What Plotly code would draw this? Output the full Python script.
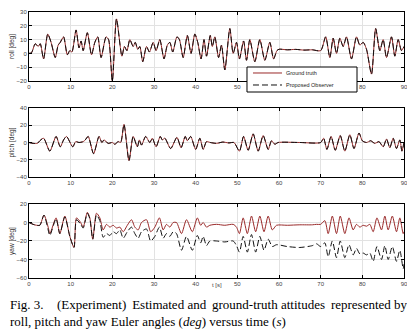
import plotly.graph_objects as go

# roll [deg] (ground truth, estimate overlaps it)
roll_t = [0, 0.6, 1.5, 2.2, 2.7, 3.5, 4.5, 5.3, 6.3, 7.0, 7.5, 8.3, 9.2, 9.8, 10.3, 11.3, 12.0, 12.5, 13.0,
          14.0, 15.0, 15.8, 16.5, 17.3, 18.5, 19.1, 20.0, 21.0, 22.3, 22.9, 23.5, 24.2, 25.0, 25.5, 26.1,
          26.6, 27.3, 28.2, 28.9, 29.8, 30.5, 31.4, 32.4, 33.2, 33.8, 34.5, 35.5, 36.1, 37.0, 38.0, 38.9,
          39.8, 40.5, 41.3, 42.0, 42.6, 43.5, 44.0, 44.6, 45.5, 46.2, 47.0, 48.2, 49.0, 49.8, 50.5, 51.5,
          52.2, 53.0, 54.2, 55.4, 56.6, 57.8, 58.7, 59.5, 60.0, 62.0, 64.0, 66.0, 68.0, 70.0, 71.2, 72.2,
          73.0, 73.8, 74.6, 75.4, 76.2, 77.4, 78.6, 79.4, 80.2, 81.0, 82.2, 83.2, 84.2, 85.0, 85.8, 87.0,
          87.8, 88.6, 89.4, 90.0]
roll_gt = [0, 0.5, 7, 5, 7, -4, 14, 8, -3, 6, 8, 12, -1, 2, 1, 17, 4, 9, 2,
           15, -1, 8, 12, -3, 12, 10, -20, 25, -2, 5, 2, 10, 5, 8, 3,
           5, -6, 5, 1, 8, 2, 10, -4, 6, 8, 1, 12, 10, -3, 13, 0,
           14, 8, -4, 10, -2, 13, 5, 12, -3, 6, -12, 18, 0, 8, -4, 9,
           -5, 10, -6, 10, -5, 8, -4, 2, 3, 2.6, 2.9, 2.4, 2.6, 2, 12, -3,
           11, 0, 11, 5, 12, -4, 12, 6, 8, 3, -15, 18, 2, 10, -3, 12,
           -2, 10, 2, 5]

# pitch [deg]
pitch_t = [0, 1.0, 2.0, 2.6, 3.5, 5.0, 6.5, 7.5, 8.3, 9.0, 10.5, 11.2, 12.0, 13.0, 13.5, 14.2, 15.5,
           16.8, 17.5, 18.0, 19.0, 20.0, 20.6, 21.4, 22.0, 22.8, 24.0, 25.0, 26.0, 26.5, 27.0, 28.0,
           29.0, 29.6, 30.5, 31.5, 32.0, 32.6, 34.0, 35.5, 36.5, 37.5, 38.0, 38.8, 40.0, 41.0, 41.8,
           42.6, 43.5, 45.0, 46.5, 48.0, 49.2, 50.5, 51.5, 52.6, 53.8, 55.0, 56.2, 57.4, 58.2, 59.0,
           59.8, 65.0, 70.0, 70.7, 71.5, 72.5, 73.5, 74.7, 75.8, 77.0, 78.0, 79.2, 80.0, 81.0, 82.0,
           83.0, 84.0, 85.0, 85.8, 86.6, 87.4, 88.2, 89.0, 89.5, 90.0]
pitch_gt = [0, -1, -1, 2, 5, -10, 7, -5, 3, 7, -5, 1, 0, 1, 3, 7, -13,
            7, 0, 3, -1, 0, -2, 1, 0, 21, -21, 7, -5, 3, -3, 7,
            0, 5, -5, 7, 3, 5, -7, 6, -6, 7, 2, 7, -8, 5, -8,
            1, 0, -1, 0.5, -0.5, 0, -10, 7, -9, 10, -10, 8, -8, 2, -2,
            0, 0, 0, 5, -8, 7, -9, 8, -10, 9, -7, 11, 2, 0, 2,
            -1, 1, -5, 4, -6, 5, -7, 3, -10, 0]

# yaw [deg]
yaw_t = [0, 1.0, 1.8, 2.6, 3.6, 4.6, 5.0, 6.5, 7.4, 8.6, 9.8, 10.8, 11.4, 12.4, 13.0, 14.0, 14.6, 15.3,
         16.2, 17.0, 17.8, 18.6, 19.4, 20.2, 21.0, 21.8, 22.6, 23.6, 24.6, 25.4, 26.2, 27.0, 28.2, 29.2,
         30.2, 31.3, 32.2, 33.0, 33.8, 34.6, 35.4, 36.6, 37.8, 39.2, 40.4, 41.2, 41.8, 42.6, 43.4, 45.0,
         47.0, 49.0, 49.8, 50.5, 51.4, 52.4, 53.4, 54.4, 55.4, 56.4, 57.4, 58.4, 59.4, 62.0, 65.0, 68.0,
         69.0, 70.0, 71.0, 71.8, 72.8, 73.8, 74.7, 75.8, 76.8, 77.8, 78.6, 79.4, 80.2, 81.0, 81.8, 82.6,
         83.5, 84.6, 85.4, 86.2, 87.2, 88.2, 89.0, 89.8, 90.0]
yaw_gt = [0, -2, -3, -3, 8, -5, -12, 5, -12, 7, -15, -27, 5, 0, -5, 11, 5, -18,
          10, 5, -8, -2, -5, -3, -6, -5, -10, -3, 3, -5, -8, 0, 3, -10,
          -5, 5, -8, -2, -5, 0, 0, -12, 3, -10, 5, -3, 0, -5, -3, -2,
          -3, -2, -5, -12, 5, -12, 7, -10, 7, -10, 7, -8, -3, -3, -2.5, -2.5,
          -2, -2, 2, -12, 7, -12, 7, -12, 5, -8, -2, -5, -3, -4, -2, -10,
          5, -8, 7, -8, 7, -10, 5, -12, -10]
yaw_est = [0, -2, -3, -3, 8, -8, -14, 4, -12, 6, -15, -27, 3, -2, -6, 10, 4, -18,
           8, 2, -16, -12, -14, -10, -12, -8, -17, -10, -5, -12, -17, -10, -7, -20,
           -15, -5, -17, -12, -15, -10, -12, -30, -15, -30, -14, -22, -15, -25, -20, -20,
           -21, -20, -25, -32, -15, -32, -13, -32, -15, -30, -18, -26, -24, -26, -27, -25,
           -23, -26, -22, -37, -20, -38, -20, -38, -24, -35, -28, -34, -33, -35, -33, -42,
           -26, -40, -25, -40, -26, -42, -30, -50, -45]

legend_names = ["Ground truth", "Proposed Observer"]
caption_1a = "Fig. 3."
caption_1b = "(Experiment) Estimated and ground-truth attitudes represented by"
caption_2 = "roll, pitch and yaw Euler angles (<i>deg</i>) versus time (<i>s</i>)"

GT_COLOR = "#9a2a2a"
EST_COLOR = "#111111"
EST_DASH = "6px,3px"

panels = [
    ("", roll_t, roll_gt, roll_gt, "roll [deg]", [-20, 30], 10, [0.7406, 1.0]),
    ("2", pitch_t, pitch_gt, pitch_gt, "pitch [deg]", [-40, 40], 20, [0.3797, 0.6391]),
    ("3", yaw_t, yaw_gt, yaw_est, "yaw [deg]", [-60, 20], 20, [0.0, 0.2782]),
]

fig = go.Figure()
small = dict(family="Liberation Sans", size=6, color="#444444")

for k, t, gt, est, label, yr, dy, dom in panels:
    fig.add_trace(go.Scatter(x=t, y=gt, mode="lines", name=legend_names[0],
                             line=dict(color=GT_COLOR, width=1, shape="spline", smoothing=0.7),
                             xaxis="x" + k, yaxis="y" + k, showlegend=False))
    fig.add_trace(go.Scatter(x=t, y=est, mode="lines", name=legend_names[1],
                             line=dict(color=EST_COLOR, width=1, dash=EST_DASH,
                                       shape="spline", smoothing=0.7),
                             xaxis="x" + k, yaxis="y" + k, showlegend=False))
    common = dict(showline=True, linecolor="black", linewidth=1, mirror="ticks",
                  ticks="inside", ticklen=3, tickcolor="black",
                  showgrid=True, gridcolor="#e2e2e2", gridwidth=1, zeroline=False,
                  tickfont=small, automargin=False)
    fig.update_layout(**{
        "xaxis" + k: dict(common, domain=[0, 1], range=[0, 90], dtick=10,
                          anchor="y" + k),
        "yaxis" + k: dict(common, domain=dom, range=yr, dtick=dy, anchor="x" + k,
                          title=dict(text=label, standoff=1,
                                     font=dict(family="Liberation Sans", size=6.5,
                                               color="#333333"))),
    })

# page body has an 8px margin, so the div is 8px smaller than the window
fig.update_layout(
    width=407, height=325, autosize=False,
    margin=dict(l=21, r=11, t=4, b=55),
    plot_bgcolor="white", paper_bgcolor="white",
    showlegend=False,
)

# legend box drawn over the roll panel
fig.add_shape(type="rect", xref="paper", yref="paper", x0=0.5813, x1=0.8747,
              y0=0.6992, y1=0.7932, line=dict(color="black", width=1),
              fillcolor="white", layer="above")
for row_y, color, dash, name in [(0.7707, GT_COLOR, "solid", legend_names[0]),
                                 (0.7256, EST_COLOR, EST_DASH, legend_names[1])]:
    fig.add_shape(type="line", xref="paper", yref="paper", x0=0.5973, x1=0.6747,
                  y0=row_y, y1=row_y, line=dict(color=color, width=1, dash=dash),
                  layer="above")
    fig.add_annotation(text=name, xref="paper", yref="paper", x=0.679, y=row_y,
                       xanchor="left", yanchor="middle", showarrow=False,
                       font=dict(family="Liberation Sans", size=5.5, color="#222222"))

fig.add_annotation(text="t [s]", xref="paper", yref="paper", x=0.5, y=-0.045,
                   showarrow=False, font=small)

# caption: first line is justified in the paper, widen every other word gap a little
cap_font = dict(family="Liberation Serif", size=13, color="black")
words = caption_1b.split(" ")
line_1b = ""
for i, w in enumerate(words):
    line_1b += w
    if i < len(words) - 1:
        line_1b += " \u2009" if i % 2 == 0 else " "
fig.add_annotation(text=caption_1a, xref="paper", yref="paper", x=-0.056, y=-0.1015,
                   xanchor="left", yanchor="middle", showarrow=False, font=cap_font)
fig.add_annotation(text=line_1b, xref="paper", yref="paper",
                   x=1.016, y=-0.1015, xanchor="right", yanchor="middle",
                   showarrow=False, font=cap_font)
fig.add_annotation(text=caption_2, xref="paper", yref="paper", x=-0.056, y=-0.1617,
                   xanchor="left", yanchor="middle", showarrow=False, font=cap_font)

fig.write_html("out.html")
